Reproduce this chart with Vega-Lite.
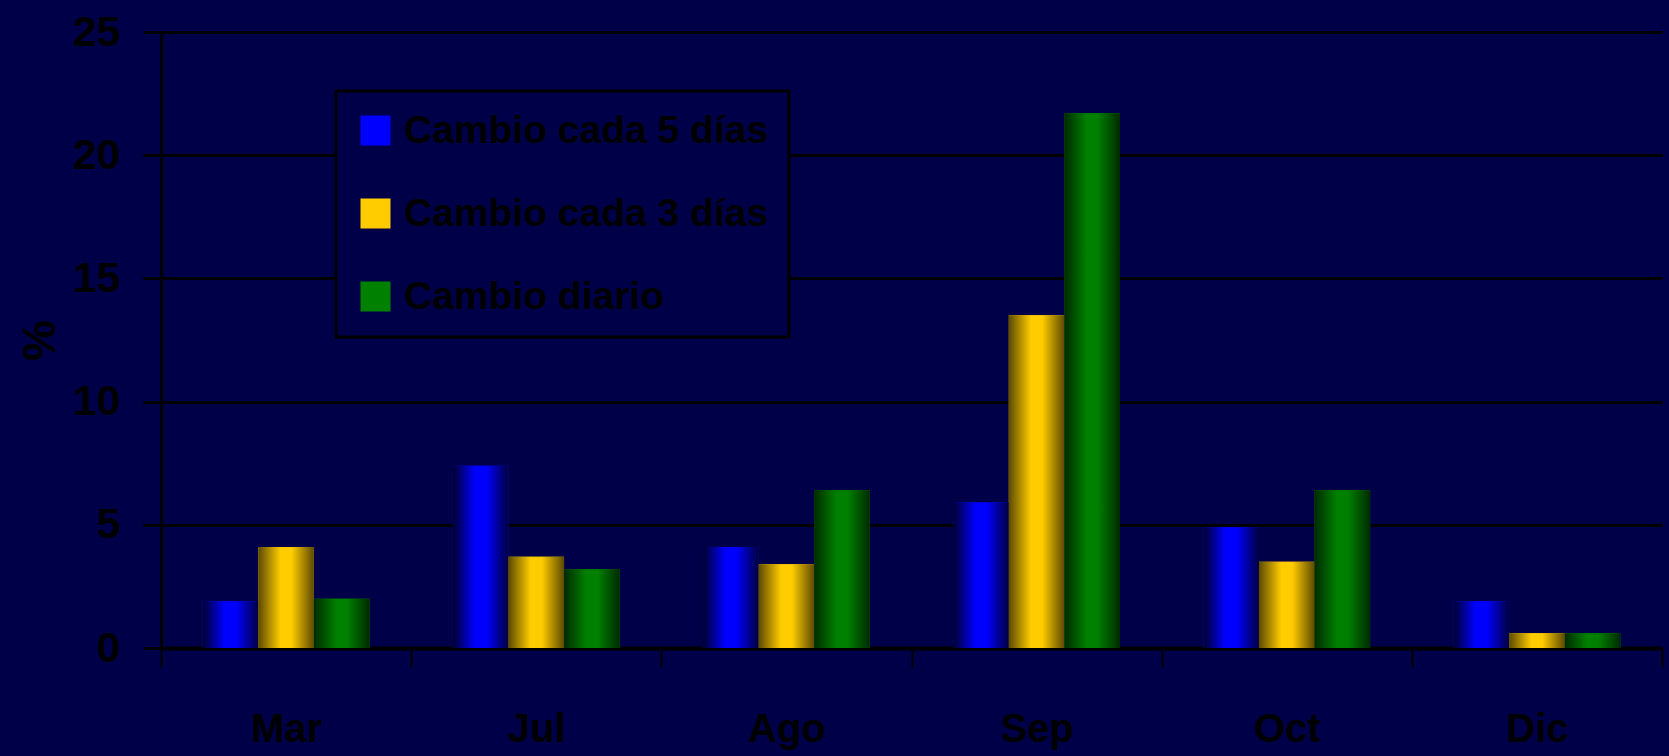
{
  "$schema": "https://vega.github.io/schema/vega-lite/v6.json",
  "autosize": "none",
  "width": 1501,
  "height": 616,
  "padding": {"left": 161, "top": 32, "right": 7, "bottom": 108},
  "background": "#000048",
  "config": {
    "view": {"stroke": null},
    "font": "Liberation Sans",
    "axis": {"labelFont": "Liberation Sans", "titleFont": "Liberation Sans", "labelColor": "#000000", "titleColor": "#000000", "labelFontWeight": "bold", "titleFontWeight": "bold"}
  },
  "data": {
    "values": [
      {"mes": "Mar", "serie": "Cambio cada 5 días", "valor": 1.9},
      {"mes": "Mar", "serie": "Cambio cada 3 días", "valor": 4.1},
      {"mes": "Mar", "serie": "Cambio diario", "valor": 2.0},
      {"mes": "Jul", "serie": "Cambio cada 5 días", "valor": 7.4},
      {"mes": "Jul", "serie": "Cambio cada 3 días", "valor": 3.7},
      {"mes": "Jul", "serie": "Cambio diario", "valor": 3.2},
      {"mes": "Ago", "serie": "Cambio cada 5 días", "valor": 4.1},
      {"mes": "Ago", "serie": "Cambio cada 3 días", "valor": 3.4},
      {"mes": "Ago", "serie": "Cambio diario", "valor": 6.4},
      {"mes": "Sep", "serie": "Cambio cada 5 días", "valor": 5.9},
      {"mes": "Sep", "serie": "Cambio cada 3 días", "valor": 13.5},
      {"mes": "Sep", "serie": "Cambio diario", "valor": 21.7},
      {"mes": "Oct", "serie": "Cambio cada 5 días", "valor": 4.9},
      {"mes": "Oct", "serie": "Cambio cada 3 días", "valor": 3.5},
      {"mes": "Oct", "serie": "Cambio diario", "valor": 6.4},
      {"mes": "Dic", "serie": "Cambio cada 5 días", "valor": 1.9},
      {"mes": "Dic", "serie": "Cambio cada 3 días", "valor": 0.6},
      {"mes": "Dic", "serie": "Cambio diario", "valor": 0.6}
    ]
  },
  "encoding": {
    "x": {
      "field": "mes", "type": "nominal",
      "sort": ["Mar", "Jul", "Ago", "Sep", "Oct", "Dic"],
      "scale": {"paddingInner": 0, "paddingOuter": 0},
      "axis": {
        "title": null, "labelAngle": 0, "tickBand": "extent",
        "labelFontSize": 40, "labelPadding": 42,
        "domainColor": "#000000", "domainWidth": 4,
        "tickColor": "#000000", "tickWidth": 2, "tickSize": 19,
        "grid": false
      }
    },
    "xOffset": {
      "field": "serie", "type": "nominal",
      "sort": ["Cambio cada 5 días", "Cambio cada 3 días", "Cambio diario"],
      "scale": {"paddingInner": 0, "paddingOuter": 0.75}
    },
    "y": {
      "field": "valor", "type": "quantitative",
      "scale": {"domain": [0, 25], "nice": false},
      "axis": {
        "title": "%", "titleFontSize": 46, "titlePadding": 8, "titleAngle": -90,
        "values": [0, 5, 10, 15, 20, 25],
        "labelFontSize": 43, "labelPadding": 23,
        "domainColor": "#000000", "domainWidth": 3,
        "tickColor": "#000000", "tickWidth": 3, "tickSize": 18,
        "grid": true, "gridColor": "#000000", "gridWidth": 3, "gridOpacity": 1
      }
    }
  },
  "layer": [
    {
      "mark": {"type": "bar"},
      "encoding": {
        "color": {
          "field": "serie", "type": "nominal",
          "sort": ["Cambio cada 5 días", "Cambio cada 3 días", "Cambio diario"],
          "scale": {"range": ["#0000ff", "#ffcc00", "#008000"]},
          "legend": {
            "title": null, "orient": "none", "legendX": 175, "legendY": 59,
            "symbolType": "square", "symbolSize": 900, "symbolStrokeWidth": 0,
            "labelFont": "Liberation Sans", "labelFontWeight": "bold",
            "labelFontSize": 39, "labelColor": "#000000", "labelOffset": 9,
            "labelLimit": 600,
            "rowPadding": 43, "padding": 20,
            "strokeColor": "#000000", "fillColor": "#000048",
            "encode": {
              "legend": {"update": {"strokeWidth": {"value": 3}}},
              "symbols": {"update": {
                "fill": {"signal": "datum.value === 'Cambio cada 5 días' ? {gradient: 'linear', x1: 0, x2: 1, y1: 0, y2: 0, stops: [{offset: 0, color: '#000030'}, {offset: 0.4, color: '#0000ff'}, {offset: 0.6, color: '#0000ff'}, {offset: 1, color: '#000040'}]} : datum.value === 'Cambio cada 3 días' ? {gradient: 'linear', x1: 0, x2: 1, y1: 0, y2: 0, stops: [{offset: 0, color: '#5c4a00'}, {offset: 0.4, color: '#ffcc00'}, {offset: 0.6, color: '#ffcc00'}, {offset: 1, color: '#5c4a00'}]} : {gradient: 'linear', x1: 0, x2: 1, y1: 0, y2: 0, stops: [{offset: 0, color: '#002a00'}, {offset: 0.4, color: '#008000'}, {offset: 0.6, color: '#008000'}, {offset: 1, color: '#002a00'}]}"}
              }}
            }
          }
        }
      }
    },
    {
      "mark": {"type": "bar"},
      "encoding": {
        "fill": {
          "condition": [
            {"test": "datum['serie'] === 'Cambio cada 5 días'", "value": {"gradient": "linear", "x1": 0, "x2": 1, "y1": 0, "y2": 0, "stops": [{"offset": 0, "color": "#000030"}, {"offset": 0.4, "color": "#0000ff"}, {"offset": 0.6, "color": "#0000ff"}, {"offset": 1, "color": "#000040"}]}},
            {"test": "datum['serie'] === 'Cambio cada 3 días'", "value": {"gradient": "linear", "x1": 0, "x2": 1, "y1": 0, "y2": 0, "stops": [{"offset": 0, "color": "#5c4a00"}, {"offset": 0.4, "color": "#ffcc00"}, {"offset": 0.6, "color": "#ffcc00"}, {"offset": 1, "color": "#5c4a00"}]}}
          ],
          "value": {"gradient": "linear", "x1": 0, "x2": 1, "y1": 0, "y2": 0, "stops": [{"offset": 0, "color": "#002a00"}, {"offset": 0.4, "color": "#008000"}, {"offset": 0.6, "color": "#008000"}, {"offset": 1, "color": "#002a00"}]}
        }
      }
    }
  ]
}
